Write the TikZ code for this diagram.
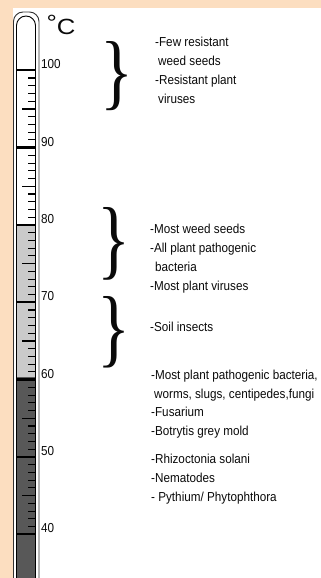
\documentclass[tikz,border=0pt]{standalone}
\usepackage{fontspec}
\usepackage{graphicx}
\setmainfont{Liberation Sans}[FakeStretch=0.9]
\newfontfamily\bracefont{Liberation Serif}
\usetikzlibrary{positioning}
\definecolor{peach}{RGB}{252, 222, 192}
\definecolor{lightfill}{RGB}{202, 202, 202}
\definecolor{darkfill}{RGB}{88, 88, 88}
\definecolor{ink}{RGB}{10, 10, 10}
\tikzset{
    note/.style={anchor=north west, inner sep=0pt, align=left, text=ink, font=\fontsize{13}{19}\selectfont},
    scalelabel/.style={anchor=west, inner sep=0pt, text=ink, font=\fontsize{13}{15}\selectfont},
    brace/.style={inner sep=0pt, text=ink, font=\bracefont},
    tube/.style={line width=0.9pt, rounded corners=9.5pt},
    majortick/.style={line width=2.4pt},
    minortick/.style={line width=1.1pt}
}

\begin{document}
\begin{tikzpicture}[x=1pt, y=-1pt]
        \useasboundingbox (0,0) rectangle (321,578);
        \fill[peach] (0,0) rectangle (321,578);
        \fill[white] (13,8) rectangle (321,578);

        % thermometer
        \fill[lightfill] (16.5,224.3) rectangle (35.5,377);
        \fill[darkfill] (16.5,377) rectangle (35.5,578);
        \foreach \t in {41,...,99} {
            \pgfmathsetmacro{\ty}{70.3+7.733*(100-\t)}
            \pgfmathsetmacro{\tx}{ifthenelse(mod(\t,5)==0,22,28)}
            \draw[minortick] (\tx,\ty) -- (35.5,\ty);
        }
        \foreach \t in {40,50,...,100} {
            \pgfmathsetmacro{\ty}{70.3+7.733*(100-\t)}
            \draw[majortick] (16.5,\ty) -- (35.5,\ty);
            \node[scalelabel] (deg\t) at (41,{\ty-6}) {\t};
        }
        \draw[tube, black!80] (13.5,580) -- (13.5,12) -- (39,12) -- (39,580);
        \draw[tube] (16.5,580) -- (16.5,16) -- (35.5,16) -- (35.5,580);
        \node[anchor=north west, inner sep=0pt, text=ink, font=\fontsize{22}{22}\selectfont] (unit) at (46.5,15) {\scalebox{1.3}[1]{\raisebox{4.4pt}{°}C}};

        % braces
        \node[brace] (brace1) at (117,76) {\resizebox{33pt}{58pt}{\}}};
        \node[brace] (brace2) at (114,243.5) {\resizebox{33pt}{61pt}{\}}};
        \node[brace] (brace3) at (114.5,332) {\resizebox{33pt}{60pt}{\}}};

        % notes
        \node[note] (few) at (155,37) {-Few resistant\\\hspace*{3pt}weed seeds\\-Resistant plant\\\hspace*{3pt}viruses};
        \node[note] (most) at (150,224) {-Most weed seeds\\-All plant pathogenic\\\hspace*{5pt}bacteria\\-Most plant viruses};
        \node[note] (soil) at (150,322) {-Soil insects};
        \node[note, font=\fontsize{13}{18.5}\selectfont] (bact) at (151,370) {-Most plant pathogenic bacteria,\\\hspace*{3pt}worms, slugs, centipedes,fungi\\-Fusarium\\-Botrytis grey mold};
        \node[note] (rhizo) at (151,454) {-Rhizoctonia solani\\-Nematodes\\- Pythium/ Phytophthora};
    \end{tikzpicture}
\end{document}
